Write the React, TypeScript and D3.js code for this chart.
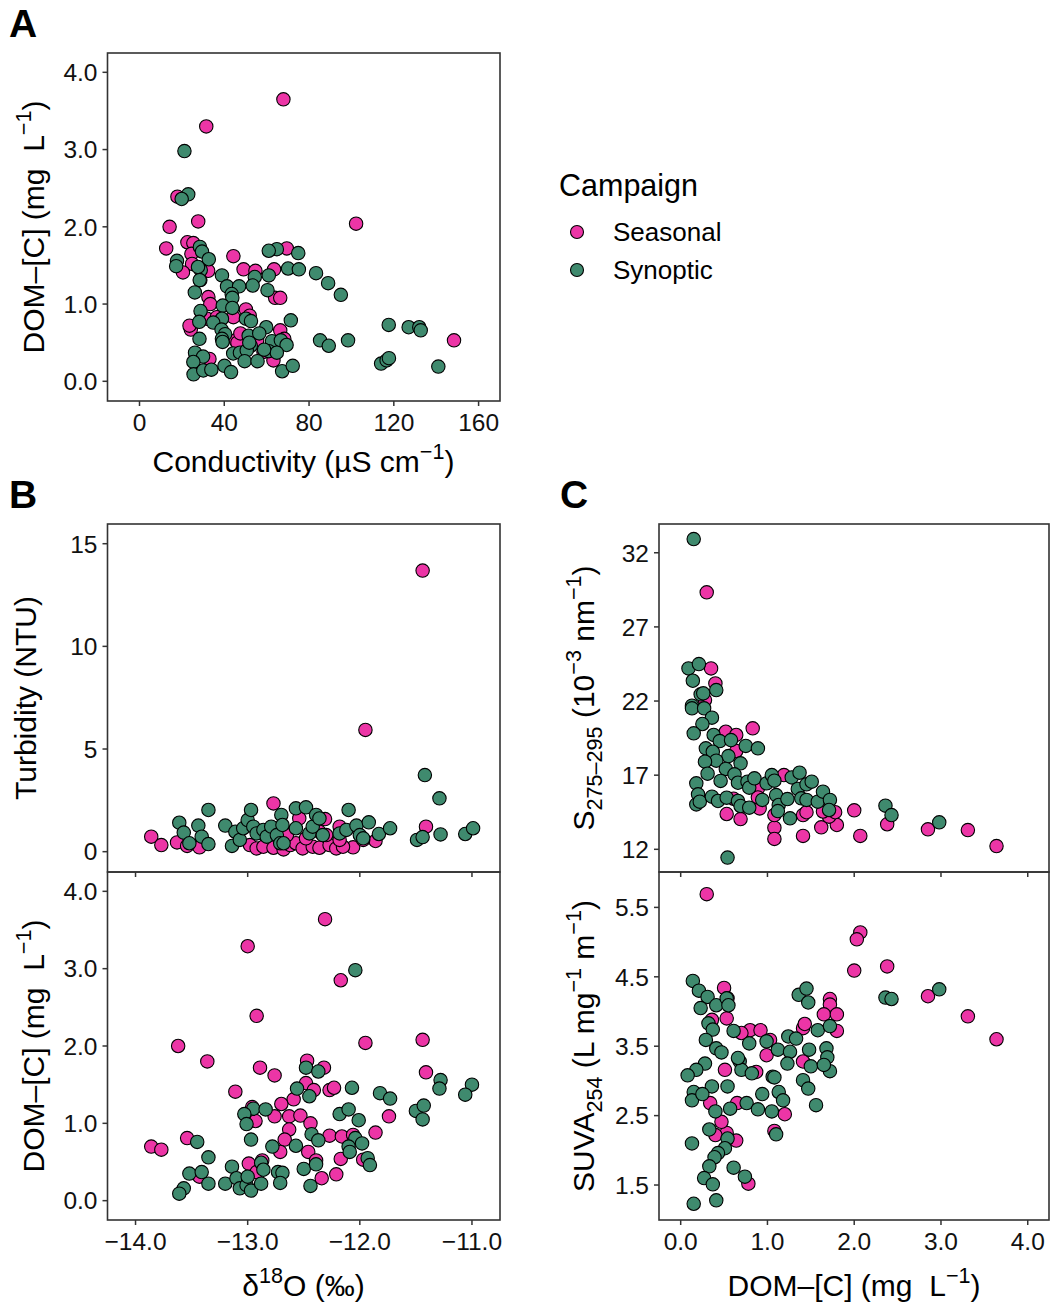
import React from "react";
import * as d3 from "d3";

const PINK = "#EC35A6";
const GREEN = "#3F8A6E";
const FONT = "'Liberation Sans', Arial, Helvetica, sans-serif";

const campaigns = ["Seasonal", "Synoptic"];

// Tick values
const condTicks = [0, 40, 80, 120, 160];
const domTicks = [0, 1, 2, 3, 4];
const d18OTicks = [-14, -13, -12, -11];
const turbTicks = [0, 5, 10, 15];
const slopeTicks = [12, 17, 22, 27, 32];
const suvaTicks = [1.5, 2.5, 3.5, 4.5, 5.5];

// Panel A: conductivity vs DOM-[C]
const aSeasonal = [[67.9,3.65],[31.5,3.30],[102.2,2.04],[148.4,0.53],[17.9,2.39],[14.2,2.00],[27.7,2.07],[12.6,1.72],[22.6,1.80],[25.4,1.79],[24.5,1.65],[44.3,1.62],[69.5,1.72],[24.8,1.52],[20.5,1.41],[49.1,1.45],[54.7,1.43],[63.5,1.45],[32.4,1.43],[28.7,1.31],[32.5,1.09],[33.4,1.00],[64.0,1.08],[66.4,1.08],[50.2,0.93],[44.3,0.83],[31.8,0.81],[36.5,0.83],[24.2,0.67],[23.6,0.72],[52.0,0.85],[66.4,0.66],[68.3,0.55],[45.4,0.53],[46.2,0.50],[55.5,0.53],[47.6,0.62],[63.2,0.27],[33.0,0.29],[58.5,0.38]];
const aSynoptic = [[21.2,2.98],[23.0,2.42],[19.9,2.36],[64.8,1.71],[61.0,1.69],[74.9,1.66],[28.5,1.74],[29.5,1.68],[32.7,1.58],[17.7,1.56],[17.3,1.49],[28.9,1.44],[27.6,1.48],[28.4,1.31],[70.1,1.46],[75.2,1.45],[83.3,1.40],[89.0,1.27],[95.0,1.12],[61.0,1.37],[54.4,1.35],[53.4,1.24],[38.9,1.37],[41.3,1.23],[47.0,1.23],[43.5,1.13],[43.8,1.08],[26.1,1.15],[60.4,1.18],[39.3,0.98],[43.8,0.95],[28.8,0.91],[28.2,0.77],[38.9,0.81],[34.8,0.76],[38.7,0.67],[40.4,0.61],[38.9,0.55],[39.2,0.51],[50.2,0.81],[52.6,0.78],[71.4,0.79],[59.8,0.70],[51.5,0.59],[56.5,0.62],[52.5,0.46],[62.5,0.52],[66.7,0.53],[69.4,0.47],[85.2,0.53],[89.3,0.46],[98.4,0.53],[117.6,0.73],[127.0,0.70],[132.0,0.70],[132.7,0.66],[114.0,0.23],[116.6,0.27],[117.7,0.30],[141.0,0.19],[28.3,0.55],[26.2,0.37],[30.0,0.32],[25.4,0.25],[25.5,0.09],[30.1,0.14],[33.9,0.15],[40.1,0.20],[43.2,0.12],[44.2,0.36],[47.4,0.37],[50.6,0.40],[49.6,0.26],[55.7,0.26],[61.0,0.39],[64.8,0.37],[67.3,0.13],[72.3,0.20],[51.8,0.50],[58.8,0.41]];

// Panel B top: d18O vs turbidity
const bTurbSeasonal = [[-11.44,13.69],[-11.95,5.93],[-11.41,1.22],[-13.86,0.73],[-13.77,0.32],[-13.63,0.45],[-13.54,0.28],[-13.43,0.21],[-12.77,2.35],[-12.54,1.62],[-12.31,1.59],[-12.18,1.22],[-11.86,0.52],[-12.06,0.21],[-12.98,0.32],[-12.92,0.16],[-12.86,0.24],[-12.77,0.19],[-12.68,0.11],[-12.62,0.32],[-12.57,0.41],[-12.51,0.16],[-12.42,0.24],[-12.36,0.19],[-12.27,0.32],[-12.21,0.16],[-12.15,0.24],[-12.65,0.81],[-12.48,0.65],[-12.30,0.81],[-12.18,0.57],[-11.97,0.57],[-12.36,0.97]];
const bTurbSynoptic = [[-11.42,3.73],[-11.29,2.60],[-11.28,0.84],[-11.49,0.57],[-11.44,0.71],[-11.06,0.86],[-10.99,1.14],[-13.61,1.41],[-13.57,0.93],[-13.52,0.41],[-13.44,1.27],[-13.41,0.73],[-13.35,2.03],[-13.35,0.37],[-13.20,1.27],[-13.14,0.28],[-13.11,0.97],[-13.07,0.57],[-13.04,1.14],[-13.00,1.54],[-12.97,2.03],[-12.95,1.22],[-12.92,0.89],[-12.86,1.06],[-12.83,0.73],[-12.79,1.22],[-12.74,0.81],[-12.71,0.41],[-12.70,1.79],[-12.69,1.30],[-12.68,0.41],[-12.57,2.11],[-12.57,1.14],[-12.48,2.16],[-12.45,0.89],[-12.42,1.22],[-12.39,1.79],[-12.36,1.62],[-12.33,0.81],[-12.18,0.89],[-12.10,2.03],[-12.12,1.06],[-12.03,1.27],[-12.00,0.81],[-11.97,0.65],[-11.92,1.43],[-11.83,0.86],[-11.73,1.14]];

// Panel B bottom: d18O vs DOM-[C]
const bDomSeasonal = [[-12.31,3.64],[-13.00,3.29],[-12.17,2.85],[-12.92,2.39],[-13.62,2.00],[-11.95,2.04],[-11.44,2.08],[-13.36,1.80],[-12.89,1.72],[-12.76,1.62],[-12.47,1.81],[-12.32,1.72],[-11.41,1.66],[-13.11,1.41],[-12.48,1.52],[-12.41,1.43],[-12.27,1.43],[-12.23,1.46],[-12.59,1.31],[-12.70,1.25],[-12.96,1.21],[-12.93,1.03],[-12.76,1.09],[-12.63,1.09],[-12.53,1.10],[-12.44,1.00],[-12.63,0.92],[-11.74,1.09],[-11.86,0.88],[-12.27,0.84],[-12.16,0.83],[-12.06,0.85],[-13.86,0.70],[-13.77,0.66],[-13.54,0.81],[-12.67,0.79],[-12.71,0.63],[-12.46,0.63],[-12.17,0.54],[-11.97,0.53],[-12.99,0.48],[-12.87,0.52],[-12.39,0.52],[-12.34,0.29],[-12.21,0.34],[-13.43,0.31],[-12.92,0.37]];
const bDomSynoptic = [[-12.04,2.98],[-12.48,1.72],[-12.37,1.67],[-12.56,1.45],[-12.45,1.35],[-12.07,1.46],[-11.82,1.39],[-11.73,1.32],[-11.28,1.56],[-11.29,1.45],[-11.00,1.50],[-11.06,1.37],[-11.50,1.16],[-11.43,1.23],[-11.44,1.05],[-12.95,1.19],[-13.03,1.12],[-12.84,1.18],[-13.01,0.99],[-12.18,1.12],[-12.10,1.18],[-12.01,1.04],[-12.43,0.86],[-12.37,0.78],[-12.97,0.79],[-13.45,0.76],[-12.78,0.70],[-12.57,0.71],[-12.04,0.81],[-11.98,0.74],[-12.10,0.70],[-12.09,0.63],[-11.93,0.55],[-11.91,0.46],[-13.35,0.56],[-13.52,0.35],[-13.41,0.37],[-13.35,0.22],[-13.57,0.16],[-13.61,0.09],[-13.20,0.22],[-13.14,0.44],[-13.10,0.29],[-13.07,0.16],[-13.01,0.20],[-13.00,0.31],[-12.97,0.13],[-12.88,0.49],[-12.86,0.40],[-12.88,0.22],[-12.73,0.37],[-12.69,0.36],[-12.71,0.23],[-12.50,0.41],[-12.39,0.47],[-12.44,0.19]];

// Panel C top: DOM-[C] vs S275-295
const cSlopeSeasonal = [[0.30,29.33],[3.64,12.22],[3.31,13.30],[2.85,13.35],[2.38,13.69],[2.07,12.90],[2.00,14.63],[1.80,13.64],[1.62,13.48],[1.41,12.90],[1.41,14.31],[1.08,13.46],[1.08,12.70],[1.08,14.31],[0.69,14.04],[0.53,14.38],[0.83,20.16],[0.35,24.20],[0.40,23.19],[0.28,22.07],[0.52,19.93],[0.64,19.71],[0.64,18.63],[1.19,17.01],[0.91,14.76],[1.71,14.20],[1.78,14.50],[1.45,14.50],[1.64,14.55],[0.89,16.10],[0.89,15.50],[0.61,15.41]];
const cSlopeSynoptic = [[0.15,32.92],[0.54,11.44],[2.98,13.82],[2.36,14.94],[2.43,14.31],[0.09,24.20],[0.21,24.49],[0.14,23.37],[0.23,22.45],[0.26,22.52],[0.13,21.69],[0.13,21.51],[0.41,22.74],[0.27,21.51],[0.36,20.88],[0.25,20.45],[0.15,19.82],[0.38,19.71],[0.45,19.30],[0.58,19.37],[0.75,18.97],[0.89,18.81],[0.29,18.81],[0.37,18.58],[0.55,18.29],[0.41,17.98],[0.28,17.91],[0.69,17.80],[0.52,17.42],[0.62,17.06],[0.31,17.10],[0.18,16.45],[0.20,15.71],[0.18,15.03],[0.22,15.21],[0.36,15.55],[0.43,15.26],[0.46,16.61],[0.53,15.48],[0.66,16.49],[0.77,16.56],[0.79,16.16],[0.66,15.26],[0.69,14.92],[0.79,14.81],[0.85,16.79],[0.94,15.33],[0.99,16.45],[1.05,17.01],[1.08,16.63],[1.10,15.66],[1.13,14.99],[1.12,14.58],[1.26,14.09],[1.23,15.39],[1.28,16.85],[1.37,17.17],[1.35,16.07],[1.39,15.44],[1.45,16.38],[1.45,15.33],[1.51,16.56],[1.58,15.21],[1.64,15.89],[1.72,15.33],[1.71,14.65]];

// Panel C bottom: DOM-[C] vs SUVA254
const cSuvaSeasonal = [[0.30,5.69],[2.07,5.14],[2.03,5.04],[2.00,4.59],[2.38,4.65],[2.85,4.22],[3.31,3.93],[3.64,3.60],[0.50,4.34],[0.54,4.19],[0.53,3.90],[0.36,3.88],[0.80,3.73],[0.92,3.73],[0.70,3.69],[0.99,3.37],[0.87,3.13],[1.72,4.18],[1.72,4.10],[1.65,3.96],[1.80,3.96],[1.80,3.72],[1.41,3.76],[1.43,3.82],[1.03,3.59],[1.20,2.52],[1.08,2.28],[0.78,1.52],[0.64,2.14],[0.53,2.25],[0.47,2.41],[0.34,2.68],[0.40,2.22],[1.41,3.28],[0.51,3.16],[0.65,2.68]];
const cSuvaSynoptic = [[2.98,4.32],[2.36,4.20],[2.43,4.18],[0.14,4.44],[0.21,4.30],[0.31,4.21],[0.41,4.09],[0.53,4.19],[0.55,4.09],[0.23,4.05],[0.32,3.83],[0.37,3.74],[0.29,3.59],[0.41,3.47],[0.47,3.41],[0.28,3.25],[0.18,3.16],[0.08,3.08],[0.15,2.84],[0.13,2.72],[0.36,2.92],[0.40,2.56],[0.54,2.92],[0.57,2.60],[0.61,3.72],[0.68,3.28],[0.70,3.16],[0.79,3.54],[0.76,2.68],[0.89,2.59],[0.94,2.81],[0.99,3.57],[1.05,2.56],[1.06,3.06],[1.08,3.05],[1.12,3.45],[1.13,2.84],[1.18,2.72],[1.24,3.64],[1.26,3.42],[1.23,3.25],[1.33,3.61],[1.36,4.24],[1.45,4.33],[1.47,4.13],[1.48,3.45],[1.50,3.21],[1.41,3.01],[1.47,2.89],[1.58,3.73],[1.56,2.65],[1.68,3.47],[1.69,3.34],[1.72,3.14],[1.65,3.23],[1.72,3.79],[0.33,2.30],[0.54,2.17],[0.51,2.03],[0.43,1.96],[0.39,1.90],[0.33,1.77],[0.27,1.60],[0.37,1.51],[0.61,1.75],[0.74,1.62],[0.13,2.10],[0.41,1.28],[0.15,1.23],[1.10,2.23],[0.25,2.81],[0.66,3.33],[0.82,3.11]];

const AXIS = "#333333";
const TICK_FS = 24.5;
const TITLE_FS = 30;

const minus = (s: string) => s.replace("-", "\u2212");

type Pt = number[];
type PanelProps = {
  x0: number; x1: number; y0: number; y1: number;
  xDomain: [number, number]; yDomain: [number, number];
  xTicks: number[]; yTicks: number[];
  xFmt: (v: number) => string; yFmt: (v: number) => string;
  showXLabels: boolean;
  seasonal: Pt[]; synoptic: Pt[];
};

function Panel(p: PanelProps) {
  const xs = d3.scaleLinear().domain(p.xDomain).range([p.x0, p.x1]);
  const ys = d3.scaleLinear().domain(p.yDomain).range([p.y1, p.y0]);
  return (
    <g>
      {p.yTicks.map((t) => (
        <g key={"y" + t}>
          <line x1={p.x0 - 5} x2={p.x0} y1={ys(t)} y2={ys(t)} stroke={AXIS} strokeWidth={1.5} />
          <text x={p.x0 - 10} y={ys(t)} dy="0.36em" textAnchor="end" fontSize={TICK_FS} fill="#111">{p.yFmt(t)}</text>
        </g>
      ))}
      {p.xTicks.map((t) => (
        <g key={"x" + t}>
          <line x1={xs(t)} x2={xs(t)} y1={p.y1} y2={p.y1 + 5} stroke={AXIS} strokeWidth={1.5} />
          {p.showXLabels && (
            <text x={xs(t)} y={p.y1 + 30} textAnchor="middle" fontSize={TICK_FS} fill="#111">{p.xFmt(t)}</text>
          )}
        </g>
      ))}
      {p.seasonal.map((d, i) => (
        <circle key={"s" + i} cx={xs(d[0])} cy={ys(d[1])} r={6.7} fill={PINK} stroke="#000" strokeWidth={1.1} />
      ))}
      {p.synoptic.map((d, i) => (
        <circle key={"g" + i} cx={xs(d[0])} cy={ys(d[1])} r={6.7} fill={GREEN} stroke="#000" strokeWidth={1.1} />
      ))}
      <rect x={p.x0} y={p.y0} width={p.x1 - p.x0} height={p.y1 - p.y0} fill="none" stroke={AXIS} strokeWidth={1.6} />
    </g>
  );
}

// Rich text: segments of [text, kind] where kind is "n" (normal), "sup" or "sub"
type Seg = [string, string];
function Rich({ segs, fs }: { segs: Seg[]; fs: number }) {
  let cur = 0;
  return (
    <>
      {segs.map(([t, k], i) => {
        const target = k === "sup" ? -fs * 0.42 : k === "sub" ? fs * 0.25 : 0;
        const dy = target - cur;
        cur = target;
        return (
          <tspan key={i} dy={dy} fontSize={k === "n" ? fs : fs * 0.72}>{t}</tspan>
        );
      })}
    </>
  );
}

const domSegs: Seg[] = [["DOM\u2013[C] (mg\u00A0\u00A0L", "n"], ["\u22121", "sup"], [")", "n"]];

export default function App() {
  const AX0 = 107.5, AX1 = 500, CX0 = 659, CX1 = 1049;
  const fmt1 = (v: number) => v.toFixed(1);
  const fmt0 = (v: number) => String(v);
  return (
    <svg width={1052} height={1305} style={{ display: "block", position: "absolute", left: 0, top: 0 }} fontFamily={FONT}>
      <rect width={1052} height={1305} fill="#fff" />
      {/* Panel letters */}
      <text x={9} y={37} fontSize={39} fontWeight="bold">A</text>
      <text x={9} y={508} fontSize={39} fontWeight="bold">B</text>
      <text x={560} y={508} fontSize={39} fontWeight="bold">C</text>

      {/* Panel A */}
      <Panel x0={AX0} x1={AX1} y0={53} y1={401} xDomain={[-15.1, 170.1]} yDomain={[-0.255, 4.25]}
        xTicks={condTicks} yTicks={domTicks} xFmt={fmt0} yFmt={fmt1} showXLabels={true}
        seasonal={aSeasonal} synoptic={aSynoptic} />
      <text x={44} y={227} textAnchor="middle" fontSize={TITLE_FS} transform="rotate(-90 44 227)">
        <Rich segs={domSegs} fs={TITLE_FS} />
      </text>
      <text x={303.5} y={472} textAnchor="middle" fontSize={TITLE_FS}>
        <Rich segs={[["Conductivity (\u00B5S cm", "n"], ["\u22121", "sup"], [")", "n"]]} fs={TITLE_FS} />
      </text>

      {/* Legend */}
      <text x={559} y={196} fontSize={30.5}>Campaign</text>
      {campaigns.map((c, i) => (
        <g key={c}>
          <circle cx={577} cy={232 + i * 38} r={6.5} fill={i === 0 ? PINK : GREEN} stroke="#000" strokeWidth={1.1} />
          <text x={613} y={241 + i * 38} fontSize={26}>{c}</text>
        </g>
      ))}

      {/* Panel B */}
      <Panel x0={AX0} x1={AX1} y0={524} y1={872} xDomain={[-14.25, -10.75]} yDomain={[-0.99, 15.96]}
        xTicks={d18OTicks} yTicks={turbTicks} xFmt={(v) => minus(v.toFixed(1))} yFmt={fmt0} showXLabels={false}
        seasonal={bTurbSeasonal} synoptic={bTurbSynoptic} />
      <Panel x0={AX0} x1={AX1} y0={872} y1={1220} xDomain={[-14.25, -10.75]} yDomain={[-0.25, 4.25]}
        xTicks={d18OTicks} yTicks={domTicks} xFmt={(v) => minus(v.toFixed(1))} yFmt={fmt1} showXLabels={true}
        seasonal={bDomSeasonal} synoptic={bDomSynoptic} />
      <text x={36} y={698} textAnchor="middle" fontSize={TITLE_FS} transform="rotate(-90 36 698)">Turbidity (NTU)</text>
      <text x={44} y={1046} textAnchor="middle" fontSize={TITLE_FS} transform="rotate(-90 44 1046)">
        <Rich segs={domSegs} fs={TITLE_FS} />
      </text>
      <text x={303.5} y={1296} textAnchor="middle" fontSize={TITLE_FS}>
        <Rich segs={[["\u03B4", "n"], ["18", "sup"], ["O (\u2030)", "n"]]} fs={TITLE_FS} />
      </text>

      {/* Panel C */}
      <Panel x0={CX0} x1={CX1} y0={524} y1={872} xDomain={[-0.25, 4.245]} yDomain={[10.47, 33.94]}
        xTicks={domTicks} yTicks={slopeTicks} xFmt={fmt1} yFmt={fmt0} showXLabels={false}
        seasonal={cSlopeSeasonal} synoptic={cSlopeSynoptic} />
      <Panel x0={CX0} x1={CX1} y0={872} y1={1220} xDomain={[-0.25, 4.245]} yDomain={[0.996, 6.01]}
        xTicks={domTicks} yTicks={suvaTicks} xFmt={fmt1} yFmt={fmt1} showXLabels={true}
        seasonal={cSuvaSeasonal} synoptic={cSuvaSynoptic} />
      <text x={594} y={698} textAnchor="middle" fontSize={TITLE_FS} transform="rotate(-90 594 698)">
        <Rich segs={[["S", "n"], ["275\u2013295", "sub"], [" (10", "n"], ["\u22123", "sup"], [" nm", "n"], ["\u22121", "sup"], [")", "n"]]} fs={TITLE_FS} />
      </text>
      <text x={594} y={1046} textAnchor="middle" fontSize={TITLE_FS} transform="rotate(-90 594 1046)">
        <Rich segs={[["SUVA", "n"], ["254", "sub"], [" (L mg", "n"], ["\u22121", "sup"], [" m", "n"], ["\u22121", "sup"], [")", "n"]]} fs={TITLE_FS} />
      </text>
      <text x={854} y={1296} textAnchor="middle" fontSize={TITLE_FS}>
        <Rich segs={domSegs} fs={TITLE_FS} />
      </text>
    </svg>
  );
}
